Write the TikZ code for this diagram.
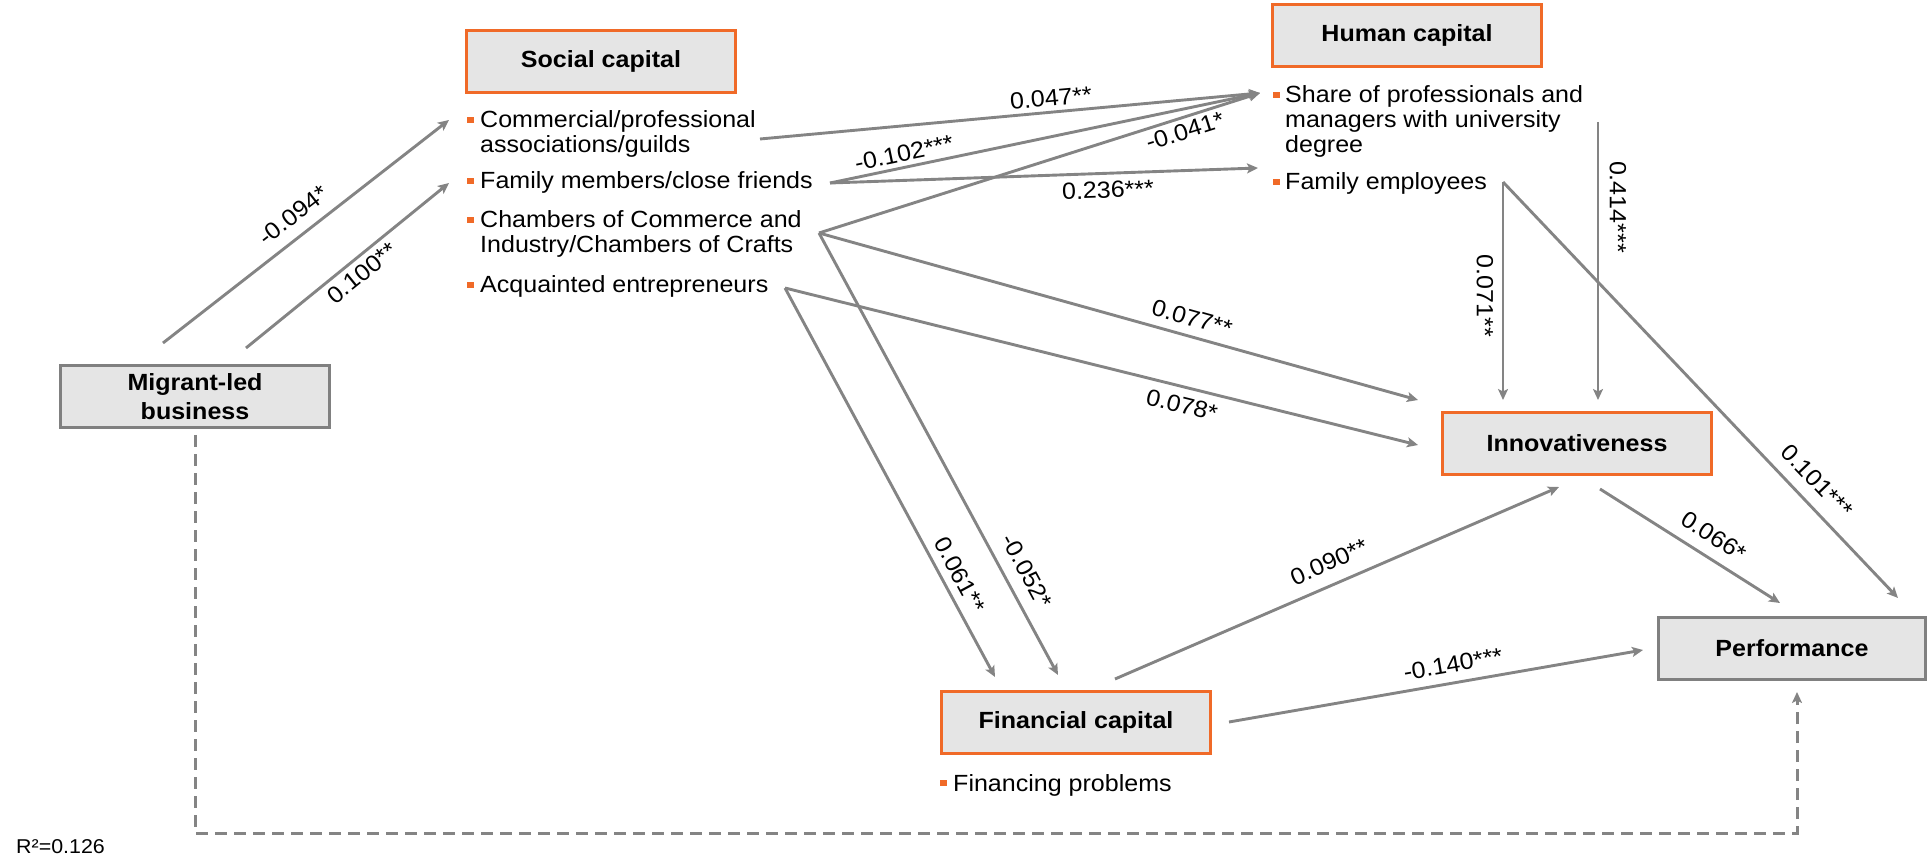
\documentclass[tikz,border=0pt]{standalone}
\usepackage{fontspec}
\setmainfont{Liberation Sans}[FakeStretch=1.07]
\usetikzlibrary{arrows.meta}
\definecolor{orc}{RGB}{240,106,40}
\definecolor{boxfill}{RGB}{229,229,229}
\definecolor{lineclr}{RGB}{132,132,132}
\definecolor{grayb}{RGB}{128,128,128}
\newcommand{\mlines}[1]{\begin{tabular}[t]{@{}l@{}}#1\end{tabular}}
\tikzset{
  box/.style={draw, line width=3pt, fill=boxfill, minimum width=269pt, minimum height=62pt,
    inner sep=0pt, align=center, font=\bfseries\fontsize{23.4}{29}\selectfont},
  obox/.style={box, draw=orc},
  gbox/.style={box, draw=grayb},
  item/.style={anchor=base west, inner sep=0pt, font=\fontsize{23.4}{25}\selectfont},
  lbl/.style={inner sep=0pt, font=\fontsize{23.4}{25}\selectfont},
  conn/.style={draw=lineclr, line width=2.9pt, -{Stealth[length=11pt,width=10pt,inset=2.5pt]}},
  dconn/.style={conn, line width=3pt, dash pattern=on 12pt off 7pt},
  bul/.style={fill=orc}
}
\begin{document}
\begin{tikzpicture}[x=1pt,y=-1pt]
\useasboundingbox (0,0) rectangle (1928,858);

% boxes
\node[obox] (soc) at (601,61.5) {Social capital};
\node[obox] (hum) at (1407,35.5) {Human capital};
\node[gbox] (mig) at (195,397) {Migrant-led\\business};
\node[obox] (inn) at (1577,443.5) {Innovativeness};
\node[gbox, minimum width=267pt] (per) at (1792,648.5) {Performance};
\node[obox] (fin) at (1076,722) {Financial capital};

% bullet items
\node[item] (com) at (480,128) {\mlines{Commercial/professional\\associations/guilds}};
\node[item] (fam) at (480,189) {Family members/close friends};
\node[item] (cha) at (480,228) {\mlines{Chambers of Commerce and\\Industry/Chambers of Crafts}};
\node[item] (acq) at (480,293) {Acquainted entrepreneurs};
\node[item] (sha) at (1285,103) {\mlines{Share of professionals and\\managers with university\\degree}};
\node[item] (fem) at (1285,190) {Family employees};
\node[item] (fpr) at (953,791) {Financing problems};

% bullets
\fill[bul] (467,116.75) rectangle (473.5,123.25);
\fill[bul] (467,177.75) rectangle (473.5,184.25);
\fill[bul] (467,216.75) rectangle (473.5,223.25);
\fill[bul] (467,281.75) rectangle (473.5,288.25);
\fill[bul] (1273,91.75) rectangle (1279.5,98.25);
\fill[bul] (1273,178.75) rectangle (1279.5,185.25);
\fill[bul] (940,779.75) rectangle (946.5,786.25);

% connector end points
\coordinate (mig-a) at (163,343);
\coordinate (mig-b) at (246,348);
\coordinate (com-in) at (449,120);
\coordinate (fam-in) at (449,183);
\coordinate (com-out) at (760,139);
\coordinate (fam-out) at (830,183);
\coordinate (cha-out) at (819,233);
\coordinate (acq-out) at (785,288);
\coordinate (sha-in) at (1260,93);
\coordinate (fem-in) at (1258,168);
\coordinate (inn-in1) at (1418,400);
\coordinate (inn-in2) at (1418,445);
\coordinate (fin-in1) at (995,677);
\coordinate (fin-in2) at (1058,675);
\coordinate (fin-out1) at (1115,679);
\coordinate (fin-out2) at (1229,722);
\coordinate (inn-in3) at (1559,487);
\coordinate (per-in1) at (1643,650);
\coordinate (inn-out) at (1600,489);
\coordinate (per-in2) at (1780,603);
\coordinate (fem-out) at (1503,182);
\coordinate (per-in3) at (1898,598);
\coordinate (inn-in4) at (1503,400);
\coordinate (sha-out) at (1598,122);
\coordinate (inn-in5) at (1598,400);
\coordinate (mig-out) at (195,435);
\coordinate (dbot) at (195,833);
\coordinate (per-in4) at (1797,692);

% connectors
\draw[conn] (mig-a) -- (com-in);
\draw[conn] (mig-b) -- (fam-in);
\draw[conn] (com-out) -- (sha-in);
\draw[conn] (fam-out) -- (sha-in);
\draw[conn] (fam-out) -- (fem-in);
\draw[conn] (cha-out) -- (sha-in);
\draw[conn] (cha-out) -- (inn-in1);
\draw[conn] (acq-out) -- (inn-in2);
\draw[conn] (cha-out) -- (fin-in2);
\draw[conn] (acq-out) -- (fin-in1);
\draw[conn] (fin-out1) -- (inn-in3);
\draw[conn] (fin-out2) -- (per-in1);
\draw[conn] (inn-out) -- (per-in2);
\draw[conn] (fem-out) -- (per-in3);
\draw[conn] (fem-out) -- (inn-in4);
\draw[conn] (sha-out) -- (inn-in5);
\draw[dconn] (mig-out) -- (dbot) -| (per-in4);

% labels
\node[lbl, rotate=38] (l1) at (293,215) {-0.094*};
\node[lbl, rotate=39] (l2) at (362,273) {0.100**};
\node[lbl, rotate=5.3] (l3) at (1051,98) {0.047**};
\node[lbl, rotate=11.8] (l4) at (904,153) {-0.102***};
\node[lbl, rotate=2] (l5) at (1108,190) {0.236***};
\node[lbl, rotate=17.6] (l6) at (1185,131) {-0.041*};
\node[lbl, rotate=-15.6] (l7) at (1192,318) {0.077**};
\node[lbl, rotate=-13.9] (l8) at (1182,405) {0.078*};
\node[lbl, rotate=-61.6] (l9) at (1027,571) {-0.052*};
\node[lbl, rotate=-61.6] (l10) at (960,575) {0.061**};
\node[lbl, rotate=24] (l11) at (1329,562) {0.090**};
\node[lbl, rotate=9.9] (l12) at (1453,664) {-0.140***};
\node[lbl, rotate=-32.7] (l13) at (1714,536) {0.066*};
\node[lbl, rotate=-46.5] (l14) at (1817,481) {0.101***};
\node[lbl, rotate=-90] (l15) at (1485,296) {0.071**};
\node[lbl, rotate=-90] (l16) at (1618,207) {0.414***};

\node[anchor=base west, inner sep=0pt, font=\fontsize{20}{20}\selectfont] (r2) at (16,853) {R²=0.126};
\end{tikzpicture}
\end{document}
